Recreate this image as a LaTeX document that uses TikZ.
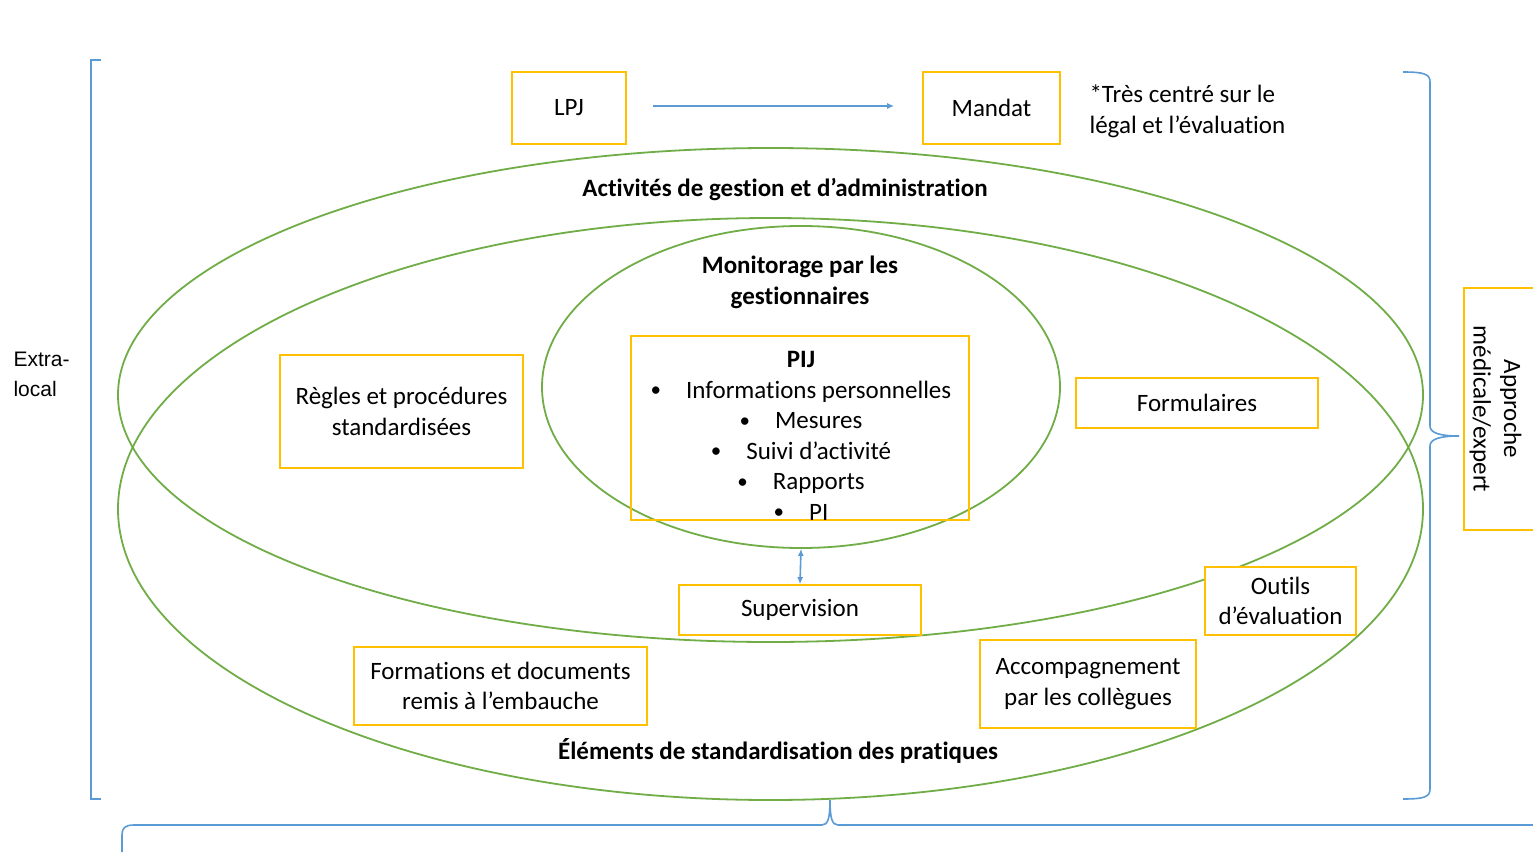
\documentclass[tikz,border=0pt]{standalone}
\usepackage{fontspec}
\setmainfont{Carlito}[Ligatures=NoCommon]
\newfontfamily\arialfont{Liberation Sans}
\usetikzlibrary{shapes.geometric,arrows.meta}
\definecolor{boxc}{HTML}{FFC000}
\definecolor{ellc}{HTML}{70AD47}
\definecolor{bluec}{HTML}{5B9BD5}
\newcommand{\smallbul}{{\fontsize{21}{21}\selectfont\raisebox{1.5pt}{•}}}
\begin{document}
\begin{tikzpicture}[x=1pt,y=-1pt,
  every node/.style={font=\fontsize{25}{30.5}\selectfont, text=black},
  obox/.style={draw=boxc, fill=white, line width=1.7pt, inner sep=0pt, align=center},
  ell/.style={ellipse, draw=ellc, line width=1.8pt, inner sep=0pt},
  conn/.style={draw=bluec, line width=1.6pt},
  tipa/.style={-{Latex[length=7pt,width=6pt]}},
  tipb/.style={{Latex[length=7pt,width=6pt]}-{Latex[length=7pt,width=6pt]}},
  ttl/.style={font=\fontsize{25}{30.5}\selectfont\bfseries, align=center}]
\useasboundingbox (0,0) rectangle (1533,862);
\fill[white] (0,0) rectangle (1533,862);
\clip (0,0) rectangle (1533,862);

% ellipses
\node[ell, minimum width=1305pt, minimum height=494pt] (act) at (770.5,395) {};
\node[ell, minimum width=1305pt, minimum height=582pt] (elem) at (770.5,509) {};
\node[ell, minimum width=518pt, minimum height=322pt] (mon) at (801,387) {};

% titles
\node[ttl] (tact) at (785,189.5) {Activités de gestion et d’administration};
\node[ttl] (tmon) at (800,282.5) {Monitorage par les\\gestionnaires};
\node[ttl] (telem) at (778,750.5) {Éléments de standardisation des pratiques};

% top boxes
\node[obox, minimum width=114pt, minimum height=72pt] (lpj) at (569,108) {LPJ};
\node[obox, minimum width=137pt, minimum height=72pt] (mandat) at (991.5,108) {Mandat};
\draw[conn, tipa] ([xshift=26pt,yshift=2pt]lpj.east) -- ([xshift=-28pt,yshift=2pt]mandat.west);
\node[anchor=west, align=left] (note) at (1086,111.5) {*Très centré sur le\\légal et l’évaluation};

% inner boxes
\node[obox, minimum width=243pt, minimum height=113pt] (regles) at (401.5,411.5) {Règles et procédures\\standardisées};
\node[obox, fill=none, minimum width=338pt, minimum height=184pt] (pij) at (800,428) {};
\node[align=center, inner sep=0pt] (pijtxt) at (801,436) {\textbf{PIJ}\\
  \smallbul\hspace{25pt}Informations personnelles\\
  \smallbul\hspace{25pt}Mesures\\
  \smallbul\hspace{25pt}Suivi d’activité\\
  \smallbul\hspace{25pt}Rapports\\
  \smallbul\hspace{25pt}PI};
\node[obox, minimum width=242pt, minimum height=50pt] (form) at (1197,403) {Formulaires};
\node[obox, minimum width=242pt, minimum height=50pt] (sup) at (800,610) {Supervision};
\draw[conn, tipb] (mon.south) -- (sup.north);
\node[obox, minimum width=151pt, minimum height=68pt] (outils) at (1280.5,601) {Outils\\d’évaluation};
\node[obox, minimum width=293pt, minimum height=78pt] (formations) at (500.5,686) {Formations et documents\\remis à l’embauche};
\node[obox, minimum width=216pt, minimum height=88pt] (accomp) at (1088,684) {Accompagnement\\par les collègues};

% approche box (cut by the right edge)
\draw[draw=boxc, line width=1.7pt] (1545,288) -- (1464,288) -- (1464,530) -- (1545,530);
\node[rotate=-90, align=center] (appr) at (1495.5,409) {Approche\\médicale/expert};

% extra-local
\node[anchor=west, align=left, font=\arialfont\fontsize{21}{30}\selectfont] (extra) at (10,374) {Extra-\\local};

% left bracket
\draw[conn] (101,60) -- (91,60) -- (91,799) -- (101,799);

% right brace
\draw[conn] (1403,72) .. controls (1424,72) and (1430,74) .. (1430,82)
  -- (1430,426) .. controls (1430,433) and (1440,436) .. (1459,436)
  .. controls (1440,436) and (1430,439) .. (1430,446)
  -- (1430,789) .. controls (1430,797) and (1424,799) .. (1403,799);

% bottom brace
\draw[conn] (122,852) -- (122,835) .. controls (122,828) and (125,825) .. (134,825)
  -- (822,825) .. controls (828,825) and (830,818) .. (830,800)
  .. controls (830,818) and (832,825) .. (838,825) -- (1545,825);
\end{tikzpicture}
\end{document}
